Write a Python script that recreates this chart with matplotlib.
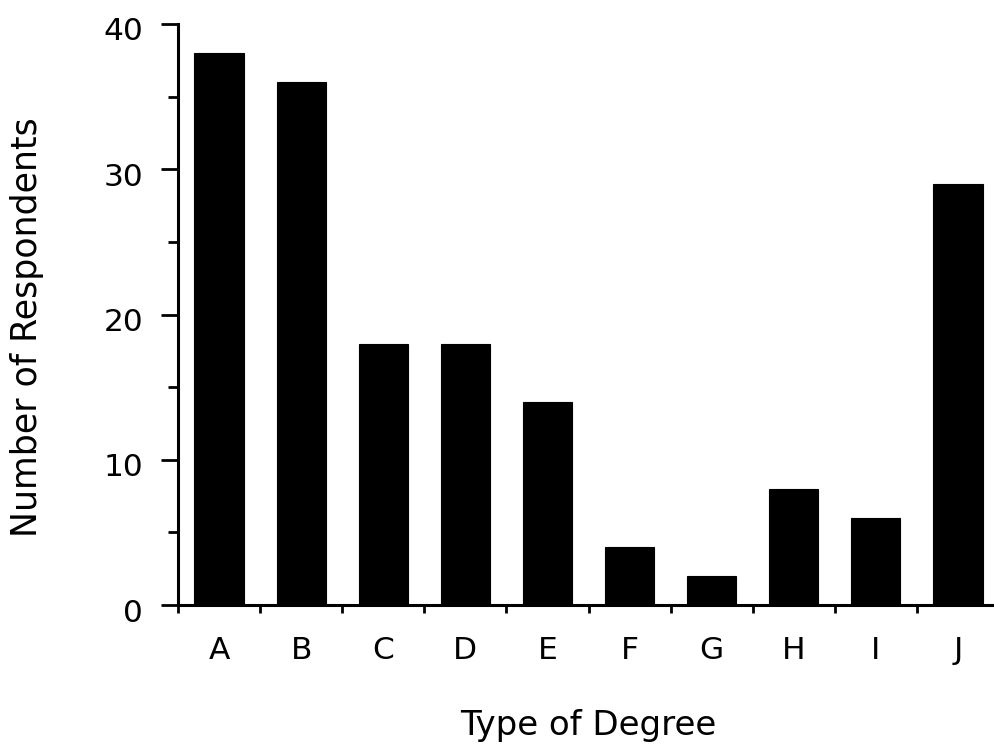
import numpy as np
import matplotlib
matplotlib.use("Agg")
from matplotlib import pyplot as plt
from matplotlib.transforms import ScaledTranslation

# degree types and counts
degrees = ["A", "B", "C", "D", "E", "F", "G", "H", "I", "J"]
respondents = [38, 36, 18, 18, 14, 4, 2, 8, 6, 29]
y_major = [0, 10, 20, 30, 40]
y_minor = [5, 15, 25, 35]

plt.rcParams['font.family'] = ['DejaVu Sans']

fig = plt.figure(figsize=(9.95, 7.45), dpi=100)
ax = fig.add_axes([178/995, 1-605/745, 821/995, 581/745])

x = np.arange(len(degrees)) + 0.5
ax.bar(x, respondents, width=0.6, color="black", edgecolor="black", linewidth=0.8)

ax.set_xlim(0, len(degrees))
ax.set_ylim(0, 40)

for side in ["top", "right"]:
    ax.spines[side].set_visible(False)
for side in ["left", "bottom"]:
    ax.spines[side].set_linewidth(2.2)

# y ticks
ax.set_yticks(y_major)
ax.set_yticks(y_minor, minor=True)
ax.tick_params(axis="y", which="major", direction="out", length=12, width=2,
               pad=13, labelsize=22.5)
ax.tick_params(axis="y", which="minor", direction="out", length=7, width=2)
for lab in ax.get_yticklabels():
    lab.set_transform(lab.get_transform() + ScaledTranslation(0, -5/100, fig.dpi_scale_trans))

# x ticks: marks at boundaries, labels at centres
ax.set_xticks(np.arange(len(degrees) + 1))
ax.set_xticklabels([])
ax.set_xticks(x, degrees, minor=True)
ax.tick_params(axis="x", which="major", direction="out", length=6, width=2)
ax.tick_params(axis="x", which="minor", length=0, pad=22, labelsize=22.5)

fig.text(27/995, 1-327/745, "Number of Respondents", rotation=90,
         ha="center", va="center", fontsize=25)
fig.text(588/995, 1-735/745, "Type of Degree", ha="center", va="baseline",
         fontsize=24.5)

plt.savefig("out.png", dpi=100)
